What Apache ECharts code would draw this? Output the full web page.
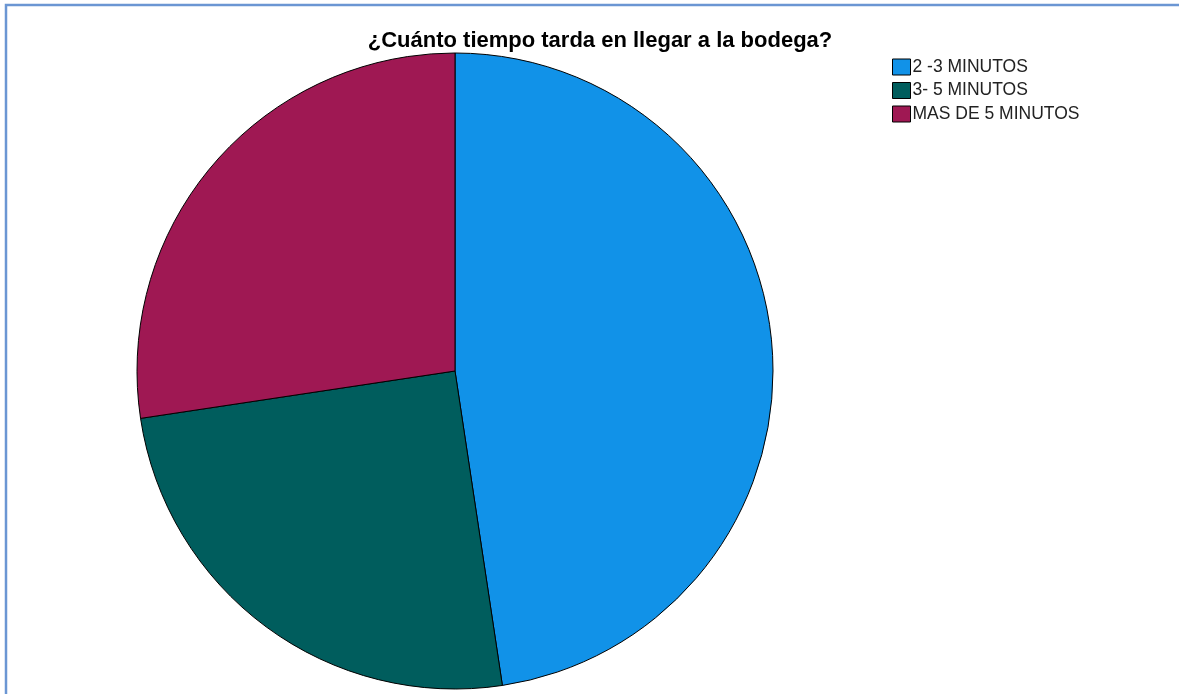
<!DOCTYPE html>
<html>
<head>
<meta charset="utf-8">
<script src="https://cdn.jsdelivr.net/npm/echarts@6/dist/echarts.min.js"></script>
<style>
  html, body { margin: 0; padding: 0; background: #ffffff; }
  #chart { width: 1179px; height: 694px; }
</style>
</head>
<body>
<div id="chart"></div>
<script>
// Travel time to the store: answer categories and respondent counts
const categories = ['2 -3 MINUTOS', '3- 5 MINUTOS', 'MAS DE 5 MINUTOS'];
const counts = [40, 21, 23];
const colors = ['#1192e8', '#005d5d', '#9f1853'];
const titleText = '¿Cuánto tiempo tarda en llegar a la bodega?';

const chart = echarts.init(document.getElementById('chart'), null, { renderer: 'canvas' });

chart.setOption({
  animation: false,
  backgroundColor: '#ffffff',
  title: {
    text: titleText,
    left: 595,
    textAlign: 'center',
    top: 25,
    textStyle: {
      fontFamily: 'Liberation Sans, Arial, sans-serif',
      fontSize: 22,
      fontWeight: 'bold',
      color: '#000000'
    }
  },
  legend: {
    orient: 'vertical',
    left: 892,
    top: 58,
    padding: 0,
    itemWidth: 18,
    itemHeight: 16,
    itemGap: 5.5,
    icon: 'rect',
    data: categories,
    itemStyle: { borderColor: '#000000', borderWidth: 1 },
    textStyle: {
      fontFamily: 'Liberation Sans, Arial, sans-serif',
      fontSize: 17.5,
      lineHeight: 17,
      color: '#222222',
      padding: [0, 0, 0, -3]
    }
  },
  graphic: [{
    type: 'rect',
    silent: true,
    shape: { x: 6, y: 5, width: 1200, height: 720 },
    style: { fill: null, stroke: '#6b96d3', lineWidth: 2.5 }
  }],
  series: [{
    type: 'pie',
    center: [455, 371],
    radius: 318,
    startAngle: 90,
    clockwise: true,
    label: { show: false },
    labelLine: { show: false },
    emphasis: { disabled: true },
    itemStyle: { borderColor: '#000000', borderWidth: 1 },
    data: categories.map((name, i) => ({
      name: name,
      value: counts[i],
      itemStyle: { color: colors[i] }
    }))
  }]
});
</script>
</body>
</html>
